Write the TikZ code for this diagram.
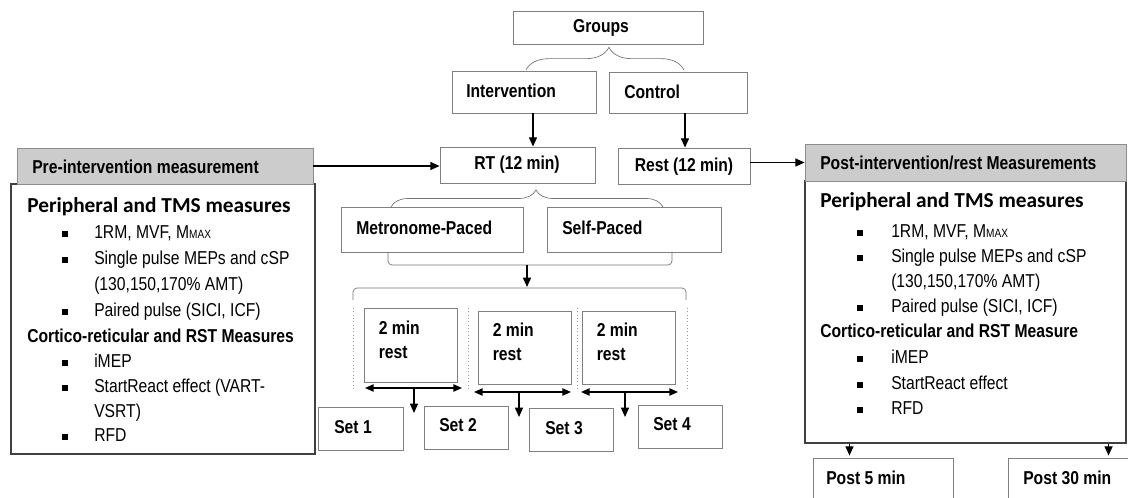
\documentclass[tikz,border=0pt]{standalone}
\usepackage{fontspec}
\setmainfont[FakeStretch=0.84]{Liberation Sans}
\newfontfamily\calib{Carlito}
\usetikzlibrary{arrows.meta,fit,calc,decorations.pathreplacing}
\begin{document}
\begin{tikzpicture}[x=0.75pt,y=-0.75pt,
 xbox/.style={draw=black!50, line width=0.6pt, inner sep=0pt},
 xhdr/.style={draw=black!45, fill=black!20, line width=0.6pt, inner sep=0pt},
 xbig/.style={draw=black!75, line width=0.8pt, inner sep=0pt},
 xttl/.style={inner sep=0pt, font=\fontsize{14}{16}\selectfont\bfseries},
 xtwo/.style={inner sep=0pt, anchor=west, align=left, font=\fontsize{14}{18}\selectfont\bfseries},
 xhdt/.style={inner sep=0pt, anchor=west, font=\fontsize{14}{16}\selectfont\bfseries},
 xit/.style={inner sep=0pt, anchor=west, font=\fontsize{14}{16}\selectfont, text height=1.6ex, text depth=0.3ex},
 xsec/.style={xit, font=\fontsize{14}{16}\selectfont\bfseries},
 xcal/.style={xit, font=\fontsize{16}{18}\selectfont\calib\bfseries},
 xbul/.style={fill=black, inner sep=0pt, minimum width=3.8pt, minimum height=4.2pt},
 xarr/.style={-{Triangle[length=7pt,width=6pt]}, line width=1.1pt},
 xdarr/.style={{Triangle[length=6.5pt,width=5.5pt]}-{Triangle[length=6.5pt,width=5.5pt]}, line width=1.1pt},
 xbrc/.style={draw=black!55, line width=0.5pt},
 xdots/.style={draw=black!40, line width=0.5pt, dotted}]
\useasboundingbox (0,0) rectangle (1128,498);
\clip (0,0) rectangle (1128,498);

% ---------- top ----------
\node[xbox, fit={(513,11)(703,44)}] (groups) {};
\node[xttl] (groupsT) at (601,28) {Groups};
\node[xbox, fit={(452,71)(596,113)}] (intv) {};
\node[xttl, anchor=west] (intvT) at (466,91) {Intervention};
\node[xbox, fit={(609,72)(747,113)}] (ctrl) {};
\node[xttl, anchor=west] (ctrlT) at (624,92) {Control};
\draw[xbrc, decorate, decoration={brace, amplitude=17pt, aspect=0.525}] (526,70) -- (684,70);

\node[xbox, fit={(440,147)(595,183)}] (rt) {};
\node[xttl] (rtT) at (517,165) {RT (12 min)};
\node[xbox, fit={(618,148)(750,184)}] (rest) {};
\node[xttl] (restT) at (684,167) {Rest (12 min)};

\path ($(intv.south)+(9,0)$) coordinate (ia);
\draw[xarr] (ia) -- (ia |- rt.north);
\path ($(ctrl.south)+(7,0)$) coordinate (ca);
\draw[xarr] (ca) -- (ca |- rest.north);

% ---------- left box ----------
\node[xbig, fit={(11,184)(315,454)}] (lbox) {};
\node[xhdr, fit={(17,148)(313,184)}] (preh) {};
\node[xhdt] (preT) at (32,167) {Pre-intervention measurement};
\draw[xarr] (preh.east) -- (preh.east -| rt.west);

\node[xcal] (l0) at (27,208) {Peripheral and TMS measures};
\node[xbul] (lb1) at (65,234) {};
\node[xit] (l1) at (94,234) {1RM, MVF, M{\fontsize{9}{9}\selectfont MAX}};
\node[xbul] (lb2) at (65,260) {};
\node[xit] (l2) at (94,260) {Single pulse MEPs and cSP};
\node[xit] (l3) at (94,286) {(130,150,170\% AMT)};
\node[xbul] (lb4) at (65,312) {};
\node[xit] (l4) at (94,312) {Paired pulse (SICI, ICF)};
\node[xsec] (l5) at (27,338) {Cortico-reticular and RST Measures};
\node[xbul] (lb6) at (65,363) {};
\node[xit] (l6) at (94,363) {iMEP};
\node[xbul] (lb7) at (65,388) {};
\node[xit] (l7) at (94,388) {StartReact effect (VART-};
\node[xit] (l8) at (94,413) {VSRT)};
\node[xbul] (lb9) at (65,437) {};
\node[xit] (l9) at (94,437) {RFD};

% ---------- middle ----------
\draw[xbrc, decorate, decoration={brace, amplitude=12.75pt, aspect=0.533}] (391,207) -- (663,207);
\node[xbox, fit={(341,207)(523,252)}] (metro) {};
\node[xttl, anchor=west] (metroT) at (356,228) {Metronome-Paced};
\node[xbox, fit={(547,207)(721,252)}] (selfp) {};
\node[xttl, anchor=west] (selfT) at (562,228) {Self-Paced};

\draw[xbrc, rounded corners=3pt] (388,252) -- (388,265) -- (672,265) -- (672,252);
\draw[xbrc, rounded corners=3pt] (353,300) -- (353,288) -- (686,288) -- (686,300);
\coordinate (mb) at (527,265);
\coordinate (lb) at (527,287);
\draw[xarr] (mb) -- (lb);

\foreach \xx in {353,468,577,687} {\draw[xdots] (\xx,308) -- (\xx,390);}

\node[xbox, fit={(364,308)(457,382)}] (r1) {};
\node[xtwo] (r1T) at ($(r1.west)+(15,-5)$) {2 min\\rest};
\node[xbox, fit={(478,311)(571,384)}] (r2) {};
\node[xtwo] (r2T) at ($(r2.west)+(15,-5.5)$) {2 min\\rest};
\node[xbox, fit={(582,311)(675,384)}] (r3) {};
\node[xtwo] (r3T) at ($(r3.west)+(15,-5.5)$) {2 min\\rest};

\coordinate (d1a) at (365,388); \coordinate (d1b) at (462,388);
\coordinate (d2a) at (474,392); \coordinate (d2b) at (571,392);
\coordinate (d3a) at (581,392); \coordinate (d3b) at (678,392);
\draw[xdarr] (d1a) -- (d1b);
\draw[xdarr] (d2a) -- (d2b);
\draw[xdarr] (d3a) -- (d3b);
\coordinate (d1m) at (414,388); \coordinate (d1e) at (414,413);
\coordinate (d2m) at (519,392); \coordinate (d2e) at (519,417);
\coordinate (d3m) at (625,392); \coordinate (d3e) at (625,417);
\draw[xarr] (d1m) -- (d1e);
\draw[xarr] (d2m) -- (d2e);
\draw[xarr] (d3m) -- (d3e);

\node[xbox, fit={(318,407)(403,450)}] (s1) {};
\node[xttl, anchor=west] (s1T) at (334,427) {Set 1};
\node[xbox, fit={(424,406)(508,449)}] (s2) {};
\node[xttl, anchor=west] (s2T) at (439,425) {Set 2};
\node[xbox, fit={(529,408)(613,451)}] (s3) {};
\node[xttl, anchor=west] (s3T) at (545,428) {Set 3};
\node[xbox, fit={(638,405)(722,448)}] (s4) {};
\node[xttl, anchor=west] (s4T) at (653,424) {Set 4};

% ---------- right box ----------
\node[xbig, fit={(805,181)(1126,443)}] (rbox) {};
\node[xhdr, fit={(805,144)(1126,181)}] (posth) {};
\node[xhdt] (postT) at (820,163) {Post-intervention/rest Measurements};
\draw[xarr] (posth.west -| rest.east) -- (posth.west);

\node[xcal] (q0) at (820,203) {Peripheral and TMS measures};
\node[xbul] (qb1) at (860,233) {};
\node[xit] (q1) at (891,233) {1RM, MVF, M{\fontsize{9}{9}\selectfont MAX}};
\node[xbul] (qb2) at (860,258) {};
\node[xit] (q2) at (891,258) {Single pulse MEPs and cSP};
\node[xit] (q3) at (891,283) {(130,150,170\% AMT)};
\node[xbul] (qb4) at (860,308) {};
\node[xit] (q4) at (891,308) {Paired pulse (SICI, ICF)};
\node[xsec] (q5) at (820,333) {Cortico-reticular and RST Measure};
\node[xbul] (qb6) at (860,359) {};
\node[xit] (q6) at (891,359) {iMEP};
\node[xbul] (qb7) at (860,385) {};
\node[xit] (q7) at (891,385) {StartReact effect};
\node[xbul] (qb8) at (860,410) {};
\node[xit] (q8) at (891,410) {RFD};

\node[xbox, fit={(813,458)(953,505)}] (p5) {};
\node[xttl, anchor=west] (p5T) at (826,478) {Post 5 min};
\node[xbox, fit={(1008,458)(1140,505)}] (p30) {};
\node[xttl, anchor=west] (p30T) at (1023,478) {Post 30 min};

\path ($(rbox.south west)+(45,0)$) coordinate (pa);
\draw[xarr] (pa) -- ($(pa |- p5.north)+(0,-2)$);
\path ($(rbox.south east)+(-18,0)$) coordinate (pb);
\draw[xarr] (pb) -- ($(pb |- p30.north)+(0,-2)$);
\end{tikzpicture}
\end{document}
